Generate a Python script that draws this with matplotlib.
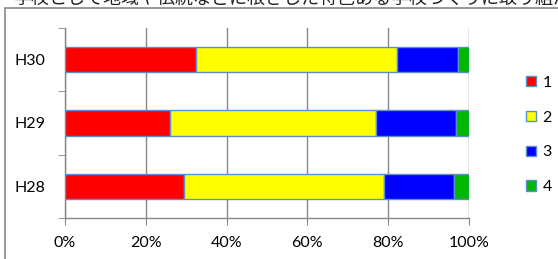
import numpy as np
import matplotlib
matplotlib.use('Agg')
import matplotlib.pyplot as plt
from matplotlib.patches import Rectangle

# données (en %)
annees = ['H28', 'H29', 'H30']
series = ['1', '2', '3', '4']
val_1 = [29.5, 26.0, 32.4]
val_2 = [49.5, 51.0, 49.7]
val_3 = [17.4, 19.8, 15.3]
val_4 = [3.6, 3.2, 2.6]
couleurs = ['#FF0000', '#FFFF00', '#0000FF', '#00B800']
titre = '学校として地域や伝統などに根ざした特色ある学校づくりに取り組んでいる'

plt.rcParams['font.family'] = ['Lato', 'DejaVu Sans']
gris = '#878787'

fig = plt.figure(figsize=(5.58, 2.59), dpi=100)
W, H = 558, 259

# cadre extérieur
fig.patches.append(Rectangle((5 / W, -0.1), 1.2, 1 - 8 / H + 0.1, transform=fig.transFigure,
                             fill=False, edgecolor=gris, linewidth=1.2))
fig.text(14 / W, 1 + 1 / H, titre, fontsize=13.0, family=['Noto Sans CJK JP'],
         ha='left', va='center', color='#222222')

ax = fig.add_axes([65 / W, 41 / H, 404 / W, 190 / H])
y = np.arange(len(annees))
gauche = np.zeros(len(annees))
for nom, vals, c in zip(series, [val_1, val_2, val_3, val_4], couleurs):
    vals = np.array(vals) / 100
    ax.barh(y, vals, left=gauche, height=0.4, color=c, edgecolor='#5b8fd0', linewidth=1,
            label=nom, zorder=3)
    gauche += vals

ax.set_xlim(0, 1)
ax.set_ylim(-0.5, 2.5)
ax.set_xticks(np.linspace(0, 1, 6))
ax.set_xticklabels([f'{int(v)}%' for v in np.linspace(0, 100, 6)])
ax.set_yticks(y)
ax.set_yticklabels(annees)
ax.set_yticks([-0.5, 0.5, 1.5, 2.5], minor=True)
ax.tick_params(axis='y', which='major', length=0, pad=14, labelsize=11.5)
ax.tick_params(axis='y', which='minor', length=5, color=gris, direction='out')
ax.tick_params(axis='x', length=5, color=gris, pad=8, labelsize=11.5)
ax.grid(axis='x', color=gris, linewidth=1, zorder=0)
for s in ['top', 'right']:
    ax.spines[s].set_visible(False)
for s in ['left', 'bottom']:
    ax.spines[s].set_color(gris)
    ax.spines[s].set_linewidth(1)

leg = ax.legend(loc='center left', bbox_to_anchor=(512 / W, 124 / H), bbox_transform=fig.transFigure,
                frameon=False, fontsize=11.5, handlelength=0.6, handleheight=0.6,
                labelspacing=1.3, handletextpad=0.4)

fig.savefig('out.png', dpi=100)
